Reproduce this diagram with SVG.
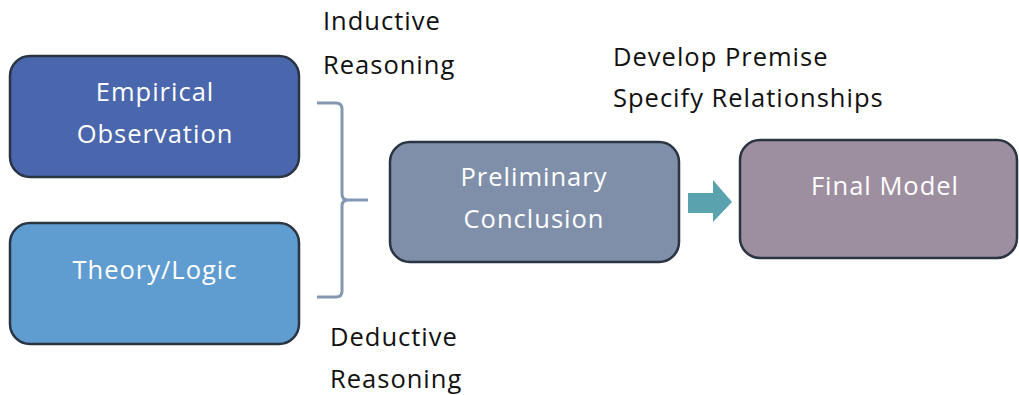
<svg xmlns="http://www.w3.org/2000/svg" width="1019" height="395" viewBox="0 0 1019 395">
  <style>
    .box { stroke: #2a3442; stroke-width: 2.5; }
    .in { font-family: "Open Sans", "Liberation Sans", sans-serif; font-size: 25.5px; letter-spacing: 1px; fill: #ffffff; text-anchor: middle; }
    .lbl { font-family: "Open Sans", "Liberation Sans", sans-serif; font-size: 25.5px; letter-spacing: 1px; fill: #111111; }
  </style>
  <rect width="1019" height="395" fill="#ffffff"/>

  <g id="empirical">
    <rect class="box" x="10" y="56" width="289" height="121" rx="20" fill="#4a66ac"/>
    <text class="in" x="155" y="101">Empirical</text>
    <text class="in" x="155" y="143">Observation</text>
  </g>

  <g id="theory">
    <rect class="box" x="10" y="223" width="289" height="121" rx="20" fill="#5f9dd1"/>
    <text class="in" x="155" y="279">Theory/Logic</text>
  </g>

  <g id="preliminary">
    <rect class="box" x="390" y="142" width="289" height="120" rx="20" fill="#7f8fa9"/>
    <text class="in" x="534" y="186">Preliminary</text>
    <text class="in" x="534" y="228">Conclusion</text>
  </g>

  <g id="final">
    <rect class="box" x="740" y="140" width="277" height="118" rx="20" fill="#9d8fa0"/>
    <text class="in" x="885" y="195">Final Model</text>
  </g>

  <g id="connectors">
    <!-- curly brace joining both sources -->
    <path d="M317 103 H336 Q342 103 342 109 V194 Q342 200 348 200 H368 M348 200 Q342 200 342 206 V291 Q342 297 336 297 H317" fill="none" stroke="#8497b0" stroke-width="3"/>
    <!-- block arrow -->
    <path d="M688 193 H713 V180 L732 202 L713 222 V213 H688 Z" fill="#5aa3ae"/>
  </g>

  <g id="labels">
    <text class="lbl" x="323" y="30">Inductive</text>
    <text class="lbl" x="323" y="74">Reasoning</text>
    <text class="lbl" x="613" y="66">Develop Premise</text>
    <text class="lbl" x="613" y="107">Specify Relationships</text>
    <text class="lbl" x="330" y="346">Deductive</text>
    <text class="lbl" x="330" y="388">Reasoning</text>
  </g>
</svg>
